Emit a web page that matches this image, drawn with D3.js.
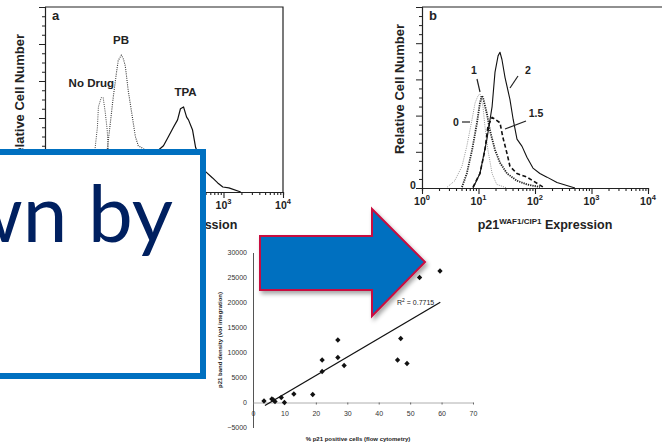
<!DOCTYPE html>
<html>
<head>
<meta charset="utf-8">
<script src="https://cdn.jsdelivr.net/npm/d3@7"></script>
<style>
  body { margin: 0; background: #fff; }
  svg { display: block; font-family: "Liberation Sans", Arial, sans-serif; }
</style>
</head>
<body>
<svg id="chart" width="662" height="444"></svg>
<script>
// ---- panel a : flow cytometry histograms (expression value, relative cell number)
var noDrugX = [4, 6.9, 7.6, 7.9, 8.8, 9.5, 10.3, 11.1, 11.6, 14];
var noDrugY = [0, 22.7, 35, 46, 51, 51, 43, 33.5, 22.7, 0];
var pbX = [8, 11.1, 12.5, 14, 15.8, 17, 19.2, 20.7, 22.4, 25, 29.4, 33, 37, 49, 150];
var pbY = [0, 22.7, 37, 51, 64, 71, 74, 72, 68, 55, 40.5, 30, 25, 22.7, 0];
var tpaX = [50, 81, 98, 119, 144, 169, 189, 213, 240, 258, 302, 340, 500, 655, 800, 975, 1230, 1950];
var tpaY = [0, 22.7, 25, 30, 35, 39, 45, 46, 40.5, 39, 33.5, 24, 11, 7.6, 4.9, 2.7, 2.2, 0];

// ---- panel b : p21 expression after 0, 1, 1.5, 2 treatment
var b0X = [2.8, 3.8, 5.1, 6.2, 7.7, 8.7, 9.8, 10.6, 12, 13, 14.7, 17.4, 21, 32];
var b0Y = [0.5, 4, 12, 23, 38, 47, 51, 52, 45, 34, 21, 8, 2, 0];
var b1X = [5.1, 6.2, 7.7, 9.4, 10.6, 11.5, 12, 14.1, 15.9, 19.6, 24, 32, 48, 72, 122];
var b1Y = [0.5, 8, 21, 36, 47, 51, 50, 41, 32, 21, 14, 8, 4, 2, 0.5];
var b15X = [8, 10.6, 13, 14.7, 17.4, 19.6, 24, 27, 32, 36, 48, 72, 92, 139];
var b15Y = [0.5, 8, 21, 34, 39, 38, 36, 28, 19, 12, 8, 6, 4, 0.5];
var b2X = [8, 10.6, 14.1, 17.4, 19.6, 22.2, 24, 26, 29.5, 36, 41, 48, 59, 72, 92, 122, 163, 245, 510];
var b2Y = [0, 8, 27, 45, 64, 73, 75, 71, 61, 49, 38, 27, 23, 17, 11, 8, 6, 3, 0];

// ---- scatter : % p21 positive cells vs band density
var pctPos = [3.5, 6, 7, 6.5, 9, 10, 13, 19, 22, 22, 27, 27, 29, 46, 47, 49, 53, 59.5];
var bandDensity = [300, 700, 200, 500, 1000, 0, 1700, 1600, 8500, 6200, 12500, 9000, 7400, 8500, 12800, 7800, 25000, 26300];
var fitX = [3.8, 59.6];
var fitSlope = 370, fitIntercept = -2000;
var rSquared = "0.7715";

var svg = d3.select("#chart");

// drop shadow for the arrow
var defs = svg.append("defs");
var sh = defs.append("filter").attr("id", "shadow").attr("x", "-20%").attr("y", "-20%").attr("width", "150%").attr("height", "150%");
sh.append("feDropShadow").attr("dx", 2).attr("dy", 3).attr("stdDeviation", 2)
  .attr("flood-color", "#000").attr("flood-opacity", 0.35);

function logTicks() {
  var t = [];
  for (var d = 0; d < 4; d++) for (var m = 1; m < 10; m++) t.push(m * Math.pow(10, d));
  t.push(1e4);
  return t;
}

function histPanel(opt) {
  var x = d3.scaleLog().domain([1, 1e4]).range([opt.left, opt.right]);
  var y = d3.scaleLinear().domain([0, 100]).range([opt.bottom, opt.top]);
  var g = svg.append("g");

  // frame
  g.append("path")
    .attr("d", "M" + opt.left + "," + opt.top + "H" + opt.frameRight + (opt.closed ? "V" + opt.bottom : ""))
    .attr("fill", "none").attr("stroke", "#222").attr("stroke-width", 1.2);

  // bottom log axis
  var xa = g.append("g").attr("transform", "translate(0," + opt.bottom + ")")
    .call(d3.axisBottom(x).tickValues(logTicks()).tickFormat("").tickSizeOuter(0).tickSize(3));
  xa.select(".domain").attr("stroke", "#222").attr("stroke-width", 1.2);
  xa.selectAll(".tick line").attr("stroke", "#222").attr("stroke-width", 1.1)
    .attr("y2", function(d) { return Math.abs(Math.log10(d) % 1) < 1e-9 ? 6 : 3; });

  // left linear axis
  var ya = g.append("g").attr("transform", "translate(" + opt.left + ",0)")
    .call(d3.axisLeft(y).tickValues(d3.range(0, 101, 5)).tickFormat("").tickSizeOuter(0).tickSize(3));
  ya.select(".domain").attr("stroke", "#222").attr("stroke-width", 1.2);
  ya.selectAll(".tick line").attr("stroke", "#222").attr("stroke-width", 1)
    .attr("x2", function(d) { return d % 20 === 0 ? -6 : -3; });

  // decade labels
  var lab = g.selectAll(".dlab").data(opt.decades).enter().append("text")
    .attr("x", function(d) { return x(Math.pow(10, d)); })
    .attr("y", opt.bottom + 17)
    .attr("text-anchor", "middle").attr("font-size", 10.5).attr("font-weight", "bold").attr("fill", "#222");
  lab.append("tspan").text("10");
  lab.append("tspan").attr("dy", -5).attr("font-size", 7.5).text(function(d) { return d; });

  // axis titles
  var xt = g.append("text").attr("x", opt.titleX).attr("y", 229)
    .attr("text-anchor", "middle").attr("font-size", 12.5).attr("font-weight", "bold").attr("fill", "#222");
  xt.append("tspan").text("p21");
  xt.append("tspan").attr("dy", -5).attr("font-size", 8).text("WAF1/CIP1");
  xt.append("tspan").attr("dy", 5).text(" Expression");

  g.append("text").attr("transform", "translate(" + opt.ylabX + "," + opt.ylabY + ") rotate(-90)")
    .attr("text-anchor", "middle").attr("font-size", 13).attr("font-weight", "bold").attr("fill", "#222")
    .text("Relative Cell Number");

  g.append("text").attr("x", opt.left + 7).attr("y", opt.top + 13)
    .attr("font-size", 13).attr("font-weight", "bold").attr("fill", "#222").text(opt.letter);

  var line = d3.line().x(function(d) { return x(d[0]); }).y(function(d) { return y(d[1]); });
  opt.series.forEach(function(s) {
    g.append("path").datum(d3.zip(s.x, s.y)).attr("d", line)
      .attr("fill", "none").attr("stroke", s.color).attr("stroke-width", s.width)
      .attr("stroke-dasharray", s.dash || null).attr("stroke-linejoin", "round");
  });
  return { x: x, y: y, g: g };
}

// ---- panel a (decades 0-2 sit under the callout box)
var pa = histPanel({
  left: 45, right: 283, frameRight: 283, closed: true, top: 7, bottom: 192,
  titleX: 170, ylabX: 24, ylabY: 99, letter: "a", decades: [3, 4],
  series: [
    { x: noDrugX, y: noDrugY, color: "#444", width: 1, dash: "1,1.2" },
    { x: pbX, y: pbY, color: "#333", width: 1.1, dash: "1,1.2" },
    { x: tpaX, y: tpaY, color: "#111", width: 1.2 }
  ]
});
[["PB", 19, 80], ["No Drug", 6, 57], ["TPA", 230, 52]].forEach(function(l) {
  pa.g.append("text").attr("x", pa.x(l[1])).attr("y", pa.y(l[2]))
    .attr("text-anchor", "middle").attr("font-size", 11.5).attr("font-weight", "bold").attr("fill", "#222").text(l[0]);
});

// ---- panel b
var pb = histPanel({
  left: 422, right: 648, frameRight: 662, closed: false, top: 7, bottom: 188,
  titleX: 545, ylabX: 404, ylabY: 89, letter: "b", decades: [0, 1, 2, 3, 4],
  series: [
    { x: b0X, y: b0Y, color: "#999", width: 1, dash: "1,1.2" },
    { x: b15X, y: b15Y, color: "#111", width: 1.6, dash: "4,2.5" },
    { x: b1X, y: b1Y, color: "#222", width: 1.8, dash: "1.3,1" },
    { x: b2X, y: b2Y, color: "#111", width: 1.1 }
  ]
});
pb.g.append("text").attr("x", 413).attr("y", 189).attr("text-anchor", "middle")
  .attr("font-size", 10.5).attr("font-weight", "bold").attr("fill", "#222").text("0");
// curve labels with leader lines
[["1", 474, 74, [[477, 79], [480, 92]]],
 ["2", 528, 74, [[518, 76], [510, 88]]],
 ["0", 456, 126, [[462, 122], [470, 122]]],
 ["1.5", 536, 117, [[526, 121], [505, 129]]]].forEach(function(l) {
  pb.g.append("text").attr("x", l[1]).attr("y", l[2]).attr("text-anchor", "middle")
    .attr("font-size", 10.5).attr("font-weight", "bold").attr("fill", "#222").text(l[0]);
  pb.g.append("line").attr("x1", l[3][0][0]).attr("y1", l[3][0][1]).attr("x2", l[3][1][0]).attr("y2", l[3][1][1])
    .attr("stroke", "#222").attr("stroke-width", 1.2);
});

// ---- callout box
svg.append("rect").attr("x", -10).attr("y", 152).attr("width", 213).attr("height", 224)
  .attr("fill", "#fff").attr("stroke", "#0070c0").attr("stroke-width", 6);
svg.append("text").attr("x", 173).attr("y", 242).attr("text-anchor", "end")
  .attr("font-family", "Lato, 'Open Sans', sans-serif").attr("font-size", 80).attr("fill", "#002060")
  .text("wn by");

// ---- scatter plot
var sx = d3.scaleLinear().domain([0, 70]).range([253, 473]);
var sy = d3.scaleLinear().domain([-5000, 30000]).range([427.5, 252.5]);
var sg = svg.append("g");

var yax = sg.append("g").attr("transform", "translate(" + sx(0) + ",0)")
  .call(d3.axisLeft(sy).tickValues(d3.range(-5000, 30001, 5000)).tickFormat(d3.format("d")).tickSize(0).tickPadding(6));
yax.select(".domain").attr("stroke", "#555").attr("stroke-width", 1);
yax.selectAll("text").attr("font-size", 7).attr("fill", "#333");

var xax = sg.append("g").attr("transform", "translate(0," + sy(0) + ")")
  .call(d3.axisBottom(sx).tickValues(d3.range(0, 71, 10)).tickSize(2).tickSizeOuter(0).tickPadding(7));
xax.select(".domain").attr("stroke", "#999").attr("stroke-width", 0.8);
xax.selectAll(".tick line").attr("stroke", "#666");
xax.selectAll("text").attr("font-size", 7).attr("fill", "#333");

sg.append("text").attr("x", 358).attr("y", 441).attr("text-anchor", "middle")
  .attr("font-size", 6).attr("font-weight", "bold").attr("fill", "#222")
  .text("% p21 positive cells (flow cytometry)");
sg.append("text").attr("transform", "translate(222,340) rotate(-90)").attr("text-anchor", "middle")
  .attr("font-size", 6).attr("font-weight", "bold").attr("fill", "#222")
  .text("p21 band density (vol integration)");

sg.append("path").datum(fitX)
  .attr("d", d3.line().x(function(d) { return sx(d); }).y(function(d) { return sy(fitSlope * d + fitIntercept); }))
  .attr("stroke", "#111").attr("stroke-width", 1.3).attr("fill", "none");

sg.selectAll(".pt").data(d3.zip(pctPos, bandDensity)).enter().append("path")
  .attr("d", d3.symbol().type(d3.symbolSquare).size(14))
  .attr("transform", function(d) { return "translate(" + sx(d[0]) + "," + sy(d[1]) + ") rotate(45)"; })
  .attr("fill", "#111");

var rt = sg.append("text").attr("x", 397).attr("y", 305).attr("font-size", 7).attr("fill", "#222");
rt.append("tspan").text("R");
rt.append("tspan").attr("dy", -3).attr("font-size", 5).text("2");
rt.append("tspan").attr("dy", 3).text(" = " + rSquared);

// ---- big arrow
svg.append("path")
  .attr("d", "M260,236H372V209L425,262L372,316V290H260Z")
  .attr("fill", "#0070c0").attr("stroke", "#c8103f").attr("stroke-width", 2)
  .attr("stroke-linejoin", "miter").attr("filter", "url(#shadow)");
</script>
</body>
</html>
